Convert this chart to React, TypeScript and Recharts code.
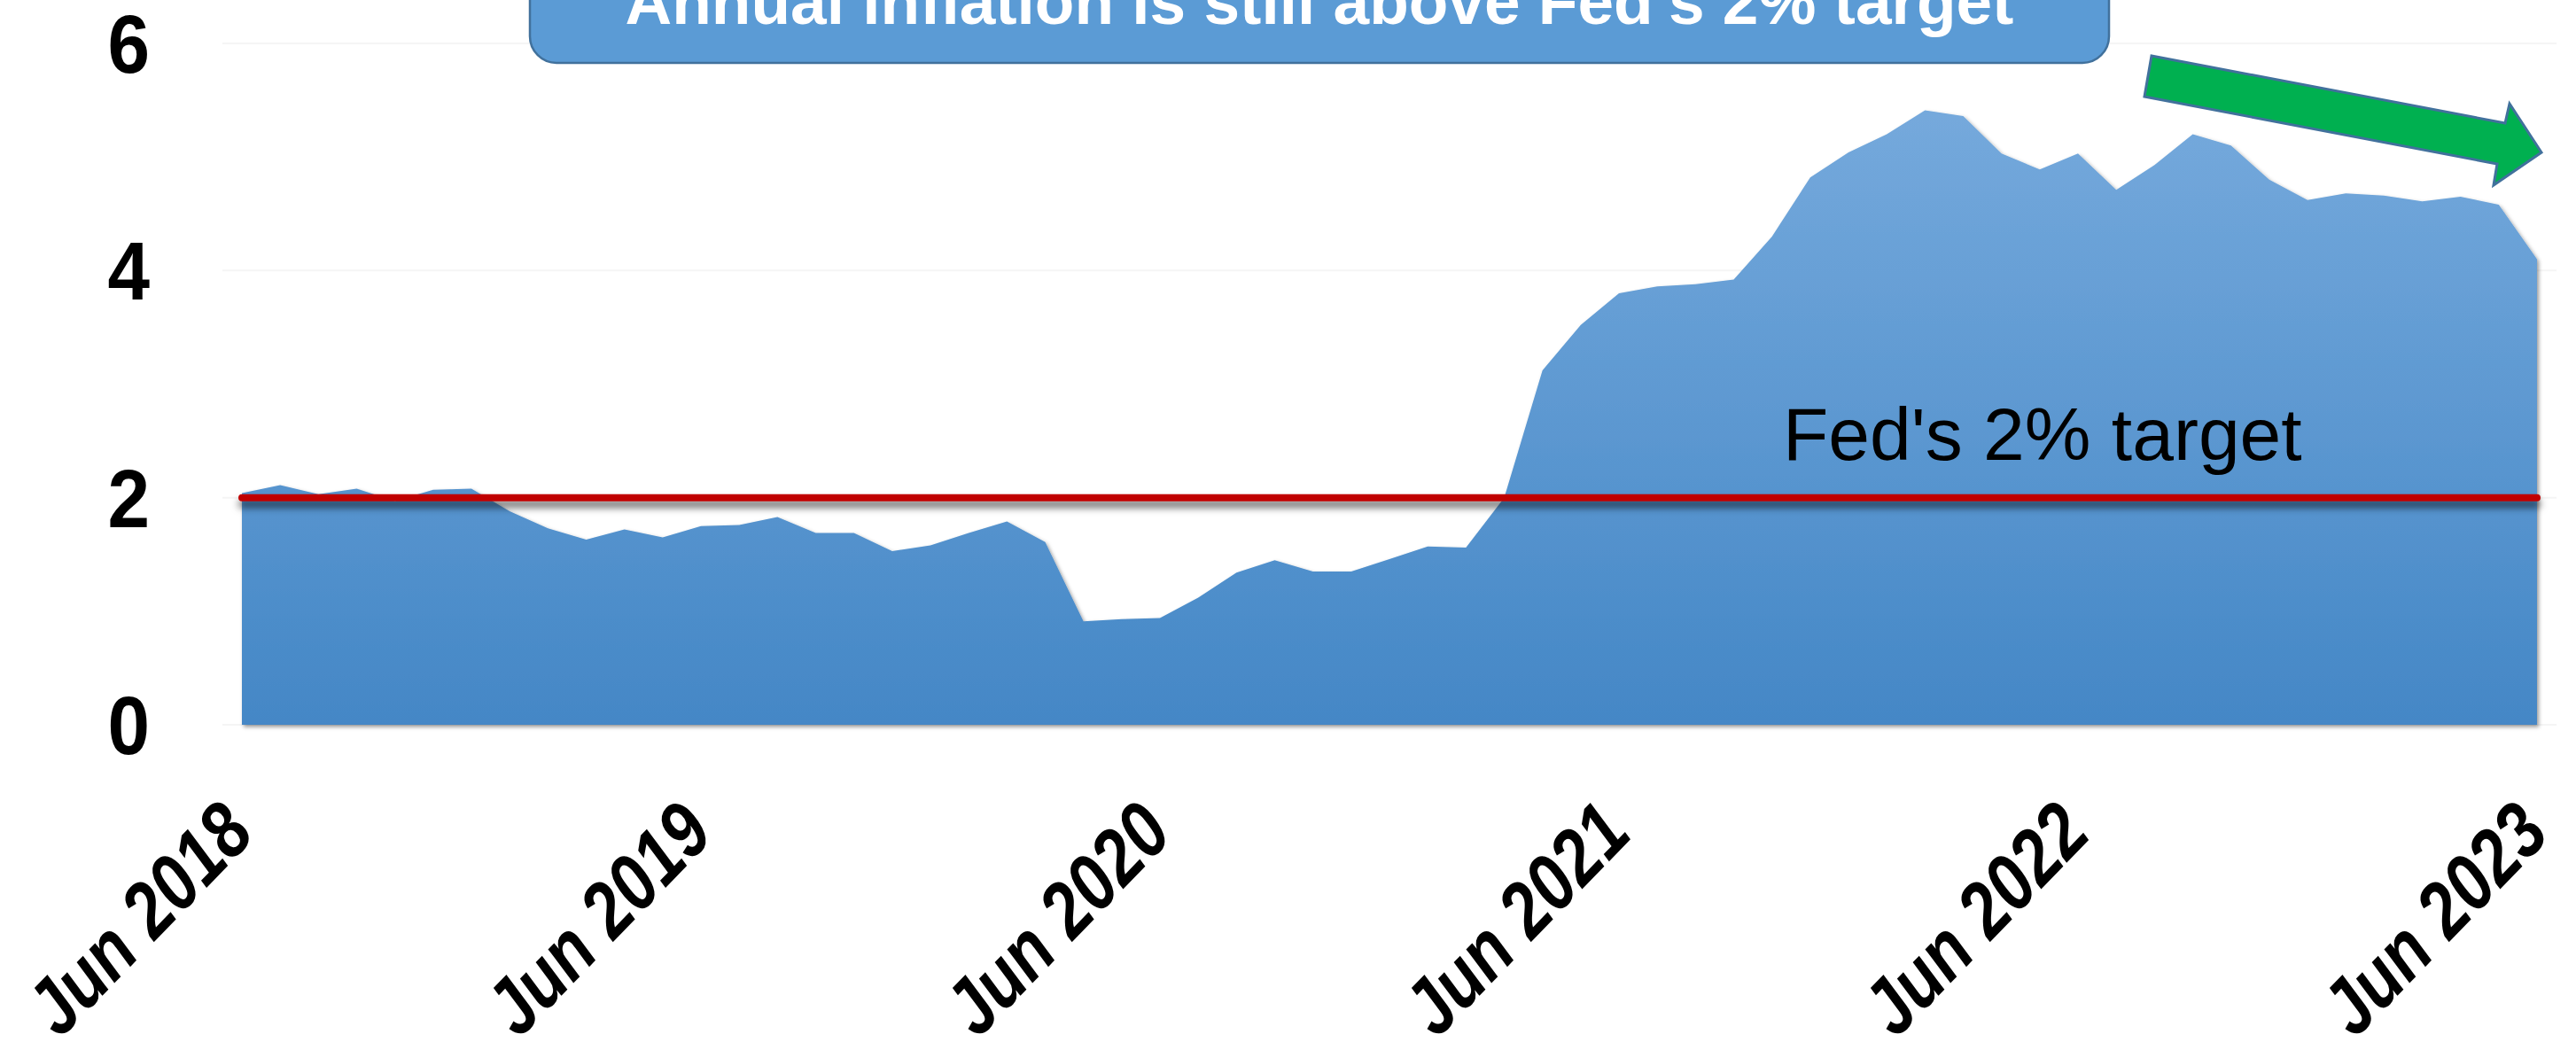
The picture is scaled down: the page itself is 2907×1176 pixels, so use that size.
import React from 'react';
import { AreaChart, Area, XAxis, YAxis, CartesianGrid, ReferenceLine } from 'recharts';

const months = [
  'Jun 2018', 'Jul 2018', 'Aug 2018', 'Sep 2018', 'Oct 2018', 'Nov 2018', 'Dec 2018',
  'Jan 2019', 'Feb 2019', 'Mar 2019', 'Apr 2019', 'May 2019', 'Jun 2019', 'Jul 2019',
  'Aug 2019', 'Sep 2019', 'Oct 2019', 'Nov 2019', 'Dec 2019', 'Jan 2020', 'Feb 2020',
  'Mar 2020', 'Apr 2020', 'May 2020', 'Jun 2020', 'Jul 2020', 'Aug 2020', 'Sep 2020',
  'Oct 2020', 'Nov 2020', 'Dec 2020', 'Jan 2021', 'Feb 2021', 'Mar 2021', 'Apr 2021',
  'May 2021', 'Jun 2021', 'Jul 2021', 'Aug 2021', 'Sep 2021', 'Oct 2021', 'Nov 2021',
  'Dec 2021', 'Jan 2022', 'Feb 2022', 'Mar 2022', 'Apr 2022', 'May 2022', 'Jun 2022',
  'Jul 2022', 'Aug 2022', 'Sep 2022', 'Oct 2022', 'Nov 2022', 'Dec 2022', 'Jan 2023',
  'Feb 2023', 'Mar 2023', 'Apr 2023', 'May 2023', 'Jun 2023',
];

const inflation = [
  2.04, 2.11, 2.03, 2.08, 1.97, 2.07, 2.08,
  1.88, 1.73, 1.63, 1.72, 1.65, 1.75, 1.76,
  1.83, 1.69, 1.69, 1.53, 1.58, 1.69, 1.79,
  1.61, 0.91, 0.93, 0.94, 1.12, 1.34, 1.45,
  1.35, 1.35, 1.46, 1.57, 1.56, 2.0, 3.12,
  3.52, 3.8, 3.86, 3.88, 3.92, 4.3, 4.82,
  5.04, 5.2, 5.41, 5.36, 5.03, 4.89, 5.03,
  4.71, 4.93, 5.2, 5.1, 4.8, 4.62, 4.68,
  4.66, 4.61, 4.65, 4.58, 4.1,
];

const yTicks = [0, 2, 4, 6];
const fedTarget = 2;
const titleText = "Annual inflation is still above Fed's 2% target";
const targetText = "Fed's 2% target";

const data = months.map((m, i) => ({ month: m, value: inflation[i] }));

const sansFont = "'Liberation Sans', Arial, sans-serif";

const XTick = (props: any) => {
  const { x, y, payload } = props;
  return (
    <g transform={`translate(${x + 17},${y + 117})`}>
      <text
        textAnchor="end"
        transform="rotate(-46) scale(0.84,1)"
        fontSize={89}
        fontWeight="bold"
        fontStyle="italic"
        fontFamily={sansFont}
        fill="#000"
      >
        {payload.value}
      </text>
    </g>
  );
};

const YTick = (props: any) => {
  const { y, payload } = props;
  return (
    <g transform={`translate(169,${y})`}>
      <text
        x={0}
        y={0}
        dy="0.355em"
        textAnchor="end"
        transform="scale(0.92,1)"
        fontSize={93}
        fontWeight="bold"
        fontFamily={sansFont}
        fill="#000"
      >
        {payload.value}
      </text>
    </g>
  );
};

const TargetLabel = () => (
  <text x={2012} y={519} fontSize={84} fontFamily={sansFont} fill="#000">
    {targetText}
  </text>
);

const css = `
.area-shadow { filter: url(#areaShadow); }
.line-shadow line { filter: url(#lineShadow); }
`;

export default function App() {
  return (
    <div style={{ position: 'absolute', left: 0, top: 0, background: '#fff' }}>
      <style>{css}</style>
      <AreaChart
        width={2907}
        height={1176}
        data={data}
        margin={{ top: 49, right: 22, bottom: 0, left: 0 }}
      >
        <defs>
          <linearGradient id="areaGrad" x1="0" y1="0" x2="0" y2="1">
            <stop offset="0%" stopColor="#75A9DC" />
            <stop offset="100%" stopColor="#4487C6" />
          </linearGradient>
          <filter id="areaShadow" filterUnits="userSpaceOnUse" x="0" y="0" width="2907" height="1176">
            <feDropShadow dx="2" dy="2.5" stdDeviation="2" floodColor="#000" floodOpacity="0.4" />
          </filter>
          <filter id="lineShadow" filterUnits="userSpaceOnUse" x="0" y="0" width="2907" height="1176">
            <feDropShadow dx="0" dy="7" stdDeviation="4" floodColor="#000" floodOpacity="0.6" />
          </filter>
        </defs>
        <CartesianGrid vertical={false} stroke="#f5f5f5" strokeWidth={2} />
        <XAxis
          dataKey="month"
          interval={11}
          axisLine={false}
          tickLine={false}
          height={358}
          padding={{ left: 22, right: 22 }}
          tick={<XTick />}
        />
        <YAxis
          domain={[0, 6]}
          ticks={yTicks}
          width={251}
          axisLine={false}
          tickLine={false}
          tick={<YTick />}
        />
        <Area
          type="linear"
          dataKey="value"
          stroke="none"
          fill="url(#areaGrad)"
          fillOpacity={1}
          className="area-shadow"
          isAnimationActive={false}
          dot={false}
          activeDot={false}
        />
        <ReferenceLine
          segment={[{ x: months[0], y: fedTarget }, { x: months[months.length - 1], y: fedTarget }]}
          stroke="#C00000"
          strokeWidth={8}
          strokeLinecap="round"
          className="line-shadow"
          label={<TargetLabel />}
        />
        <rect x={598} y={-40} width={1782} height={111} rx={30} ry={30} fill="#5B9BD5" stroke="#41719C" strokeWidth={2.5} />
        <text x={1489} y={27} textAnchor="middle" fontSize={73} fontWeight="bold" fontFamily={sansFont} fill="#fff">
          {titleText}
        </text>
        <polygon
          points="2428,63 2827,139 2832,117 2868,172 2814,209 2818,185 2420,109"
          fill="#00B050"
          stroke="#41719C"
          strokeWidth={3}
          strokeLinejoin="miter"
        />
      </AreaChart>
    </div>
  );
}
